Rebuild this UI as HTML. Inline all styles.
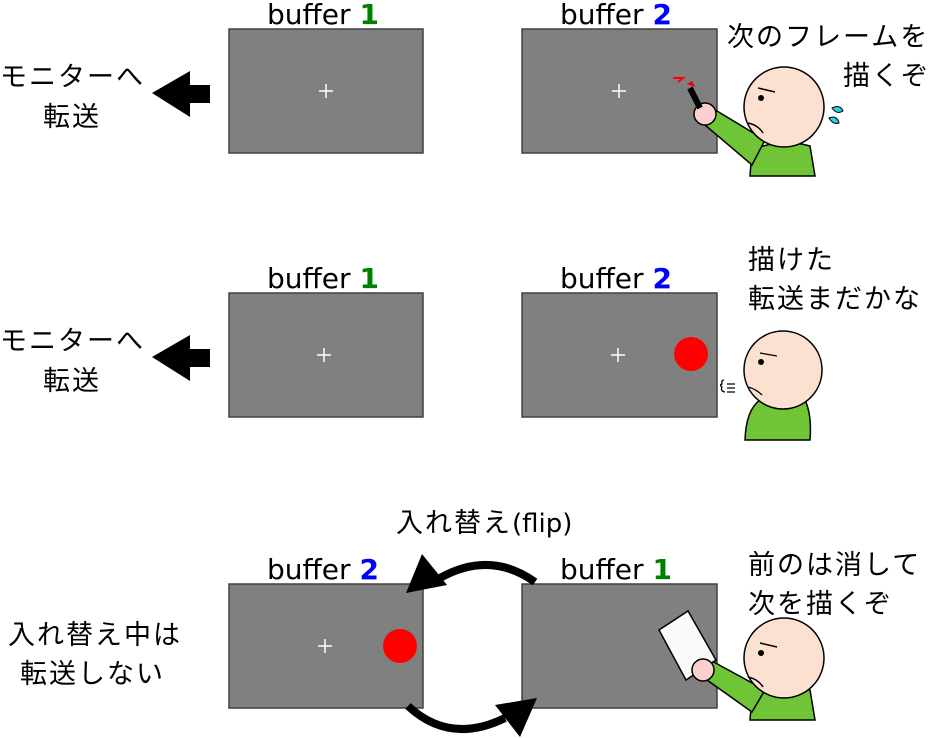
<!DOCTYPE html>
<html><head><meta charset="utf-8"><style>
html,body{margin:0;padding:0;background:#fff}
svg{display:block}
text{font-family:"DejaVu Sans","Noto Sans CJK JP",sans-serif;font-size:28px;fill:#000}
.j{font-family:"Noto Sans CJK JP",sans-serif;font-size:27px;letter-spacing:2px}
.f{font-size:26px}
.b{font-weight:bold}
</style></head><body>
<svg width="934" height="738" viewBox="0 0 934 738" xmlns="http://www.w3.org/2000/svg">
<g fill="#808080" stroke="#404040" stroke-width="1.5">
<rect x="229" y="29" width="194" height="124"/>
<rect x="522" y="29" width="195" height="124"/>
<rect x="229" y="293" width="194" height="124"/>
<rect x="522" y="293" width="195" height="124"/>
<rect x="229" y="584" width="194" height="124"/>
<rect x="522" y="584" width="195" height="124"/>
</g>
<g stroke="#fff" stroke-width="1.5">
<path d="M319 91h14M326 84v14M612 91h14M619 84v14M317 355h14M324 348v14M611 355h14M618 348v14M318 646h14M325 639v14"/>
</g>
<circle cx="691" cy="354" r="17" fill="#f00"/>
<circle cx="400" cy="646" r="17" fill="#f00"/>
<text x="267" y="24">buffer <tspan class="b" fill="#008000">1</tspan></text>
<text x="560" y="24">buffer <tspan class="b" fill="#0000ff">2</tspan></text>
<text x="267" y="288">buffer <tspan class="b" fill="#008000">1</tspan></text>
<text x="560" y="288">buffer <tspan class="b" fill="#0000ff">2</tspan></text>
<text x="267" y="579">buffer <tspan class="b" fill="#0000ff">2</tspan></text>
<text x="560" y="579">buffer <tspan class="b" fill="#008000">1</tspan></text>
<path d="M152 93L190 71V85H210V103H190V117Z"/>
<path d="M152 357L190 335V349H210V367H190V381Z"/>
<text class="j" x="0" y="86">モニターへ</text><text class="j" x="43" y="126">転送</text>
<text class="j" x="8" y="644">入れ替え中は</text><text class="j" x="20" y="683">転送しない</text>
<text class="j" x="0" y="350">モニターへ</text><text class="j" x="43" y="390">転送</text>
<text class="j" x="727" y="46">次のフレームを</text>
<text class="j" x="843" y="85">描くぞ</text>
<text class="j" x="748" y="269">描けた</text><text class="j" x="748" y="308">転送まだかな</text>
<text class="j" x="748" y="574">前のは消して</text><text class="j" x="748" y="613">次を描くぞ</text>
<text class="f" x="396" y="532"><tspan class="j">入れ替え</tspan>(flip)</text>
<path d="M535 582Q490 550 440 578" fill="none" stroke="#000" stroke-width="8"/>
<path d="M406 593L422 554L447 585Z"/>
<path d="M408 706Q450 745 505 718" fill="none" stroke="#000" stroke-width="8"/>
<path d="M537 698L495 705L520 737Z"/>
<g stroke="#000" stroke-width="1.5">
<path d="M750 176L752 150Q780 138 810 146L815 176Z" fill="#6fc535"/>
<path d="M712 108L765 140L752 165L705 125Z" fill="#6fc535"/>
<circle cx="784" cy="107" r="40" fill="#fde1d0"/>
<circle cx="705" cy="114" r="11" fill="#fdd0d0"/>
</g>
<path d="M690 88L700 108" stroke="#000" stroke-width="6"/>
<path d="M687 84l5 -3 3 6z" fill="#e00"/>
<path d="M673 78h10l-5 4" stroke="#f00" stroke-width="2" fill="none"/>
<circle cx="761" cy="98" r="3"/>
<path d="M758 88l17 4M748 123q10 2 15 10" stroke="#000" stroke-width="1.5" fill="none"/>
<path d="M832 108q8 -4 11 3q-6 4 -11 -3zM829 118q8 -3 10 5q-6 2 -10 -5z" fill="#2bd2ee" stroke="#000" stroke-width="1"/>
<g stroke="#000" stroke-width="1.5">
<path d="M745 440Q746 410 760 400L805 400Q812 415 810 440Z" fill="#6fc535"/>
<circle cx="783" cy="370" r="39" fill="#fde1d0"/>
</g>
<circle cx="761" cy="362" r="3"/>
<path d="M760 353l17 3M748 387q8 2 14 8M724 380q-3 0 -2 4q-3 1 0 3q-2 4 3 5M727 384h8M727 388h8M727 392h8" stroke="#000" stroke-width="1.3" fill="none"/>
<g stroke="#000" stroke-width="1.5">
<path d="M750 720L752 695Q780 685 810 690L815 720Z" fill="#6fc535"/>
<path d="M710 660L765 690L752 712L700 675Z" fill="#6fc535"/>
<path d="M659 630L688 611L716 660L686 680Z" fill="#fafafa"/>
<circle cx="784" cy="658" r="40" fill="#fde1d0"/>
<circle cx="703" cy="670" r="11" fill="#fdd0d0"/>
</g>
<circle cx="761" cy="653" r="3"/>
<path d="M760 643l17 4M748 677q10 2 15 10" stroke="#000" stroke-width="1.5" fill="none"/>
</svg>
</body></html>
